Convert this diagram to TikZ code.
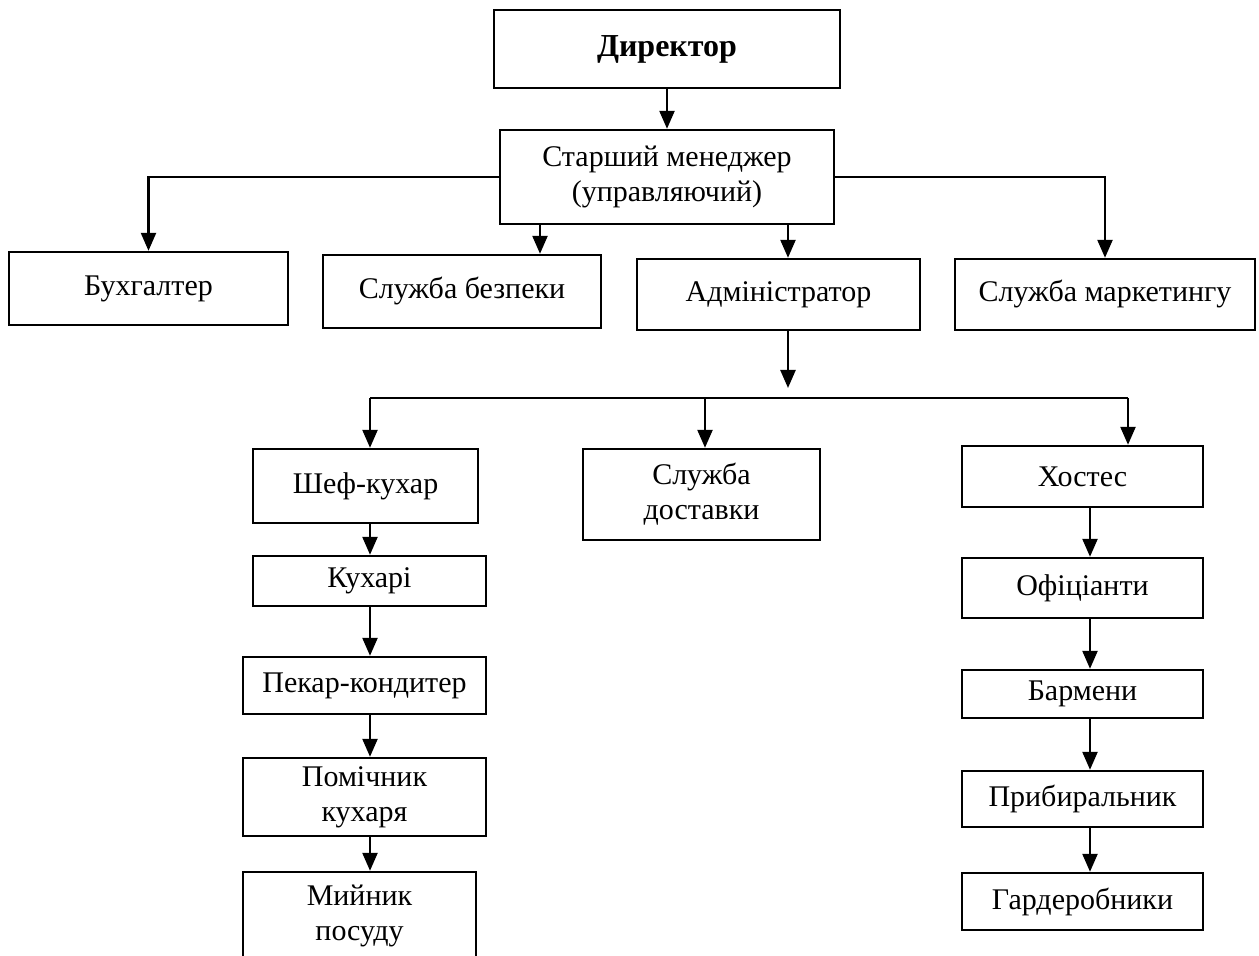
\documentclass[tikz,border=0pt]{standalone}
\usepackage{fontspec}
\setmainfont{Liberation Serif}
\usetikzlibrary{calc,arrows.meta,positioning}

\tikzset{
post/.style 2 args={draw=black,line width=1.2pt,minimum width=#1,minimum height=#2,inner sep=2pt,align=center,font=\fontsize{15}{17.5}\selectfont},
link/.style={line width=1.2pt,draw=black},
subord/.style={link,-{Triangle[length=9pt,width=7.5pt]}}
}

\begin{document}
\begin{tikzpicture}[x=0.5pt, y=-0.5pt]

\useasboundingbox (0,0) rectangle (1259,956);

% Nodes
\node[post={173pt}{39pt},font=\fontsize{16}{19}\selectfont\bfseries] (dir) at (667,49) {Директор};
\node[post={167pt}{47pt}] (mgr) at (667,177) {Старший менеджер\\(управляючий)};

\node[post={139.5pt}{36.5pt}] (buh) at (148.5,288.5) {Бухгалтер};
\node[post={139pt}{36.5pt}] (sec) at (462,291.5) {Служба безпеки};
\node[post={141.5pt}{35.5pt}] (adm) at (778.5,294.5) {Адміністратор};
\node[post={150pt}{35.5pt}] (mark) at (1105,294.5) {Служба маркетингу};

\node[post={112.5pt}{37pt}] (chef) at (365.5,486) {Шеф-кухар};
\node[post={116.5pt}{25pt}] (cooks) at (369.5,581) {Кухарі};
\node[post={121.5pt}{28.5pt}] (pekar) at (364.5,685.5) {Пекар-кондитер};
\node[post={121.5pt}{39pt}] (helper) at (364.5,797) {Помічник\\кухаря};
\node[post={116.5pt}{44pt}] (wash) at (359.5,916) {Мийник\\посуду};

\node[post={118.5pt}{45.5pt}] (deliv) at (701.5,494.5) {Служба\\доставки};

\node[post={120.5pt}{30.5pt}] (host) at (1082.5,476.5) {Хостес};
\node[post={120.5pt}{30pt}] (waiter) at (1082.5,588) {Офіціанти};
\node[post={120.5pt}{24pt}] (barmen) at (1082.5,694) {Бармени};
\node[post={120.5pt}{28pt}] (cleaner) at (1082.5,799) {Прибиральник};
\node[post={120.5pt}{28.5pt}] (cloak) at (1082.5,901.5) {Гардеробники};

% Branch points
\coordinate (secin) at ($(mgr.south)+(-127,0)$);
\coordinate (admin) at ($(mgr.south)+(121,0)$);
\coordinate (hub) at (788,388);
\coordinate (busL) at (370,398);
\coordinate (busM) at (705,398);
\coordinate (busR) at (1128,398);
\coordinate (colL) at (370,0);
\coordinate (colR) at (1090,0);

% Arrows
\draw[subord] (dir) -- (mgr);
\draw[subord] (mgr.west) -| (buh.north);
\draw[subord] (mgr.east) -| (mark.north);
\draw[subord] (secin) -- (secin |- sec.north);
\draw[subord] (admin) -- (admin |- adm.north);

\draw[subord] (hub |- adm.south) -- (hub);
\draw[link] (busL) -- (busR);
\draw[subord] (busL) -- (busL |- chef.north);
\draw[subord] (busM) -- (busM |- deliv.north);
\draw[subord] (busR) -- (busR |- host.north);

\draw[subord] (colL |- chef.south) -- (colL |- cooks.north);
\draw[subord] (colL |- cooks.south) -- (colL |- pekar.north);
\draw[subord] (colL |- pekar.south) -- (colL |- helper.north);
\draw[subord] (colL |- helper.south) -- (colL |- wash.north);

\draw[subord] (colR |- host.south) -- (colR |- waiter.north);
\draw[subord] (colR |- waiter.south) -- (colR |- barmen.north);
\draw[subord] (colR |- barmen.south) -- (colR |- cleaner.north);
\draw[subord] (colR |- cleaner.south) -- (colR |- cloak.north);

\end{tikzpicture}
\end{document}
